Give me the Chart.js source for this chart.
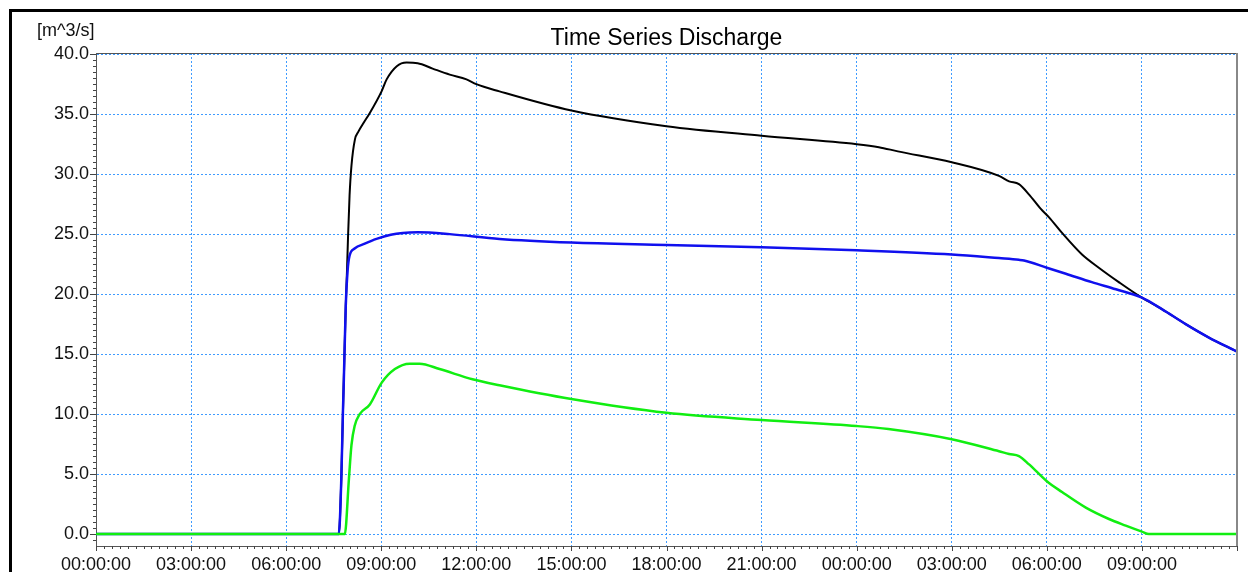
<!DOCTYPE html>
<html>
<head>
<meta charset="utf-8">
<script src="https://cdn.jsdelivr.net/npm/chart.js@4"></script>
<style>
  html, body { margin: 0; padding: 0; background: #fff; }
  #wrap { position: relative; width: 1248px; height: 572px; overflow: hidden; }
  #frame { position: absolute; left: 9px; top: 9px; right: -10px; bottom: -10px;
           border-top: 3px solid #000; border-left: 3px solid #000; pointer-events: none; }
</style>
</head>
<body>
<div id="wrap">
  <canvas id="chart" width="1248" height="572"></canvas>
  <div id="frame"></div>
</div>
<script>
// hours since start of the run
const blackHours = [0, 7.66, 7.74, 7.79, 7.82, 7.88, 7.92, 7.95, 8.0, 8.06, 8.17, 8.27, 8.45, 8.64, 9.01, 9.17, 9.49, 9.80, 10.15, 10.62, 11.16, 11.69, 12.0, 12.73, 15, 18, 21, 24, 24.7, 25.3, 27, 28.49, 28.81, 29.12, 29.44, 29.81, 30.07, 30.48, 31.11, 31.64, 32.27, 33.0, 33.63, 34.38, 35.1, 36];
const blackValues = [0, 0, 4.6, 10.0, 13.0, 19.0, 22.0, 24.6, 28.2, 30.7, 32.9, 33.5, 34.3, 35.1, 36.9, 37.9, 39.0, 39.3, 39.25, 38.8, 38.3, 37.9, 37.5, 36.9, 35.3, 34.0, 33.2, 32.5, 32.25, 31.9, 31.0, 29.86, 29.4, 29.17, 28.3, 27.1, 26.4, 25.1, 23.3, 22.2, 21.0, 19.7, 18.75, 17.5, 16.4, 15.2];

const blueHours = [0, 7.66, 7.74, 7.79, 7.82, 7.88, 7.94, 8.0, 8.16, 8.48, 8.85, 9.3, 9.68, 10.15, 11.16, 12.73, 15, 18, 21, 24, 27, 28.49, 29.12, 29.28, 30.0, 30.6, 31.42, 32.18, 33.0, 33.63, 34.38, 35.1, 36];
const blueValues = [0, 0, 4.6, 10.1, 12.9, 19.0, 22.0, 23.2, 23.8, 24.2, 24.6, 24.95, 25.1, 25.15, 25.0, 24.6, 24.3, 24.1, 23.9, 23.65, 23.3, 23.0, 22.86, 22.8, 22.2, 21.7, 21.0, 20.4, 19.7, 18.75, 17.5, 16.4, 15.2];

const greenHours = [0, 7.85, 7.98, 8.06, 8.16, 8.32, 8.64, 9.01, 9.43, 9.90, 10.21, 10.84, 11.88, 12.73, 15, 18, 21, 24, 25, 27, 28.49, 28.81, 29.12, 29.44, 30.0, 30.48, 31.23, 31.96, 32.49, 33.0, 33.22, 36];
const greenValues = [0, 0, 4.6, 7.4, 9.0, 10.0, 10.8, 12.6, 13.75, 14.2, 14.2, 13.75, 12.9, 12.4, 11.25, 10.1, 9.5, 9.0, 8.75, 7.9, 6.9, 6.67, 6.5, 5.8, 4.4, 3.5, 2.2, 1.25, 0.7, 0.2, 0.0, 0.0];

const xTickHours = [0, 3, 6, 9, 12, 15, 18, 21, 24, 27, 30, 33];
const yTickValues = [0, 5, 10, 15, 20, 25, 30, 35, 40];

const chartTitle = 'Time Series Discharge';
const unitLabel = '[m^3/s]';

function toPoints(hours, values) {
    return hours.map((h, i) => ({ x: h, y: values[i] }));
}

function hourLabel(h) {
    const hh = String(h % 24).padStart(2, '0');
    return hh + ':00:00';
}

const FONT = 'Liberation Sans, Arial, sans-serif';

// frame, minor ticks, title and unit text
const decorations = {
    id: 'decorations',
    afterDraw(chart) {
        const ctx = chart.ctx;
        const area = chart.chartArea;
        const xs = chart.scales.x;
        const ys = chart.scales.y;
        ctx.save();

        // top and right border of the plot
        ctx.strokeStyle = '#555';
        ctx.lineWidth = 1;
        ctx.beginPath();
        ctx.moveTo(area.left, area.top + 0.5);
        ctx.lineTo(area.right, area.top + 0.5);
        ctx.stroke();
        ctx.strokeStyle = '#888';
        ctx.lineWidth = 2;
        ctx.beginPath();
        ctx.moveTo(area.right, area.top);
        ctx.lineTo(area.right, area.bottom);
        ctx.stroke();

        // tick marks
        ctx.strokeStyle = '#444';
        ctx.lineWidth = 1;
        ctx.beginPath();
        for (let m = 0; m <= 36 * 4; m++) {
            const h = m / 4;
            const px = Math.round(xs.getPixelForValue(h)) + 0.5;
            const len = (m % 12 === 0) ? 5 : 3;
            ctx.moveTo(px, area.bottom);
            ctx.lineTo(px, area.bottom + len);
        }
        for (let k = -2; k <= 80; k++) {
            const v = k / 2;
            const py = Math.round(ys.getPixelForValue(v)) + 0.5;
            if (py < area.top || py > area.bottom) continue;
            const len = (k % 10 === 0) ? 6 : 3;
            ctx.moveTo(area.left - len, py);
            ctx.lineTo(area.left, py);
        }
        ctx.stroke();

        // title
        ctx.fillStyle = '#000';
        ctx.font = '23px ' + FONT;
        ctx.textAlign = 'center';
        ctx.textBaseline = 'alphabetic';
        ctx.fillText(chartTitle, (area.left + area.right) / 2, 45);

        // unit
        ctx.font = '18px ' + FONT;
        ctx.textAlign = 'left';
        ctx.fillStyle = '#111';
        ctx.fillText(unitLabel, 37, 36);
        ctx.restore();
    }
};

const gridStyle = {
    color: '#3f9bff',
    lineWidth: 1,
    drawTicks: false
};

new Chart(document.getElementById('chart').getContext('2d'), {
    type: 'line',
    data: {
        datasets: [
            {
                label: 'Total',
                data: toPoints(blackHours, blackValues),
                borderColor: '#000000',
                borderWidth: 2,
                order: 3
            },
            {
                label: 'Channel',
                data: toPoints(blueHours, blueValues),
                borderColor: '#1010ee',
                borderWidth: 2.5,
                order: 2
            },
            {
                label: 'Floodplain',
                data: toPoints(greenHours, greenValues),
                borderColor: '#11ee11',
                borderWidth: 2.5,
                order: 1
            }
        ]
    },
    options: {
        responsive: false,
        animation: false,
        parsing: false,
        elements: {
            point: { radius: 0 },
            line: { cubicInterpolationMode: 'monotone', fill: false }
        },
        layout: { padding: { top: 53, right: 11, left: 0, bottom: 0 } },
        plugins: {
            legend: { display: false },
            title: { display: false },
            tooltip: { enabled: false }
        },
        scales: {
            x: {
                type: 'linear',
                min: 0,
                max: 36,
                grid: gridStyle,
                border: { display: true, color: '#555', width: 1, dash: [2, 2] },
                afterBuildTicks(scale) {
                    scale.ticks = xTickHours.map(v => ({ value: v }));
                },
                afterFit(scale) { scale.height = 26; },
                ticks: {
                    autoSkip: false,
                    maxRotation: 0,
                    padding: 8,
                    color: '#111',
                    font: { family: FONT, size: 18 },
                    callback: v => hourLabel(v)
                }
            },
            y: {
                type: 'linear',
                min: -1.0,
                max: 40.1,
                grid: gridStyle,
                border: { display: true, color: '#555', width: 1, dash: [2, 2] },
                afterBuildTicks(scale) {
                    scale.ticks = yTickValues.map(v => ({ value: v }));
                },
                afterFit(scale) { scale.width = 96; },
                ticks: {
                    padding: 7,
                    color: '#111',
                    font: { family: FONT, size: 18 },
                    callback: v => v.toFixed(1)
                }
            }
        }
    },
    plugins: [decorations]
});
</script>
</body>
</html>
